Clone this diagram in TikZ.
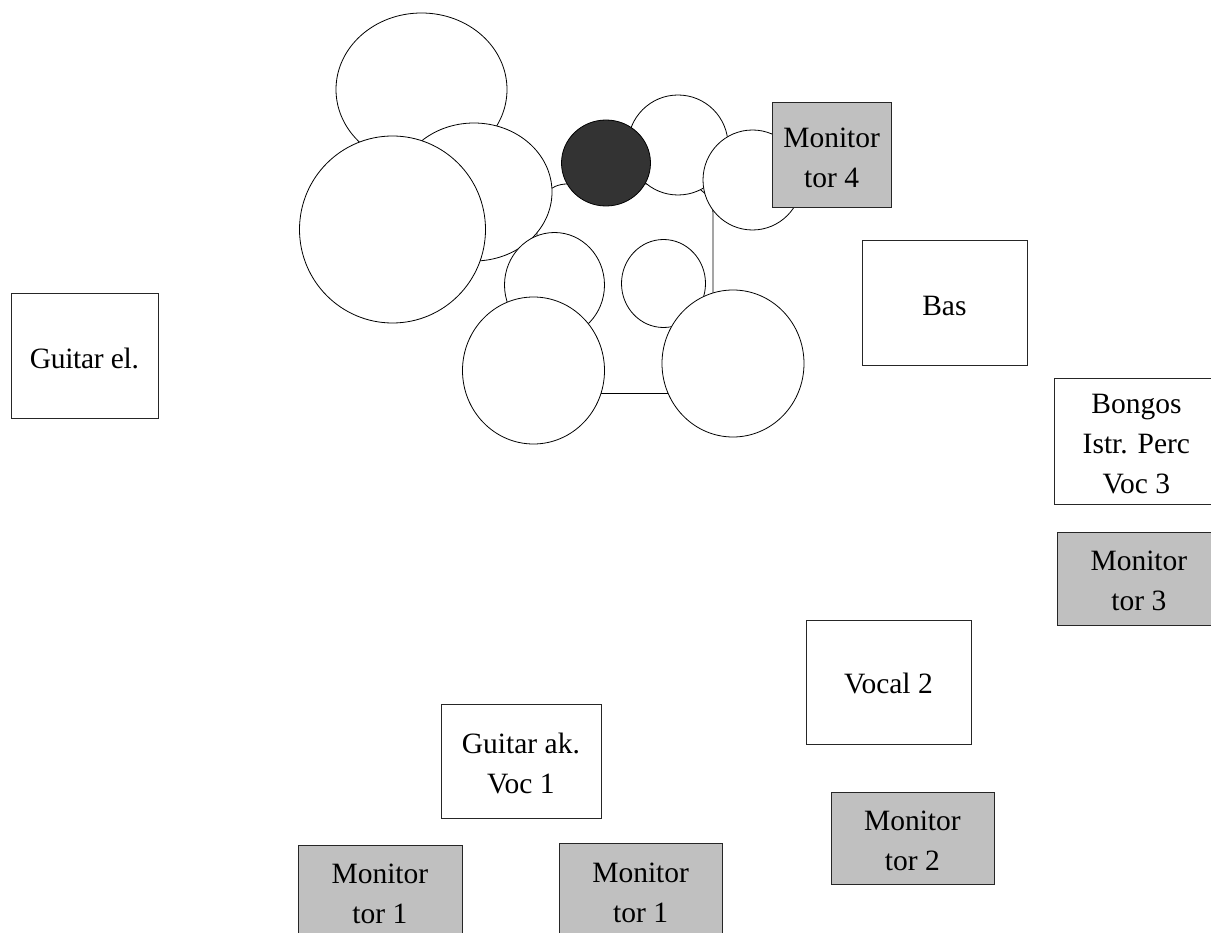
\documentclass[tikz,border=0pt]{standalone}
\usepackage{fontspec}
\setmainfont{Liberation Serif}
\usetikzlibrary{shapes.geometric}
\tikzset{
 lbl/.style={align=center,font=\fontsize{29.5}{40}\selectfont,inner sep=0pt,yshift=-2.5pt},
 bx/.style={draw=black!85,line width=0.8pt,fill=white,inner sep=0pt,anchor=north west},
 mon/.style={bx,fill=black!25},
 drum/.style={draw=black,line width=0.8pt,fill=white,ellipse,inner sep=0pt},
}
\definecolor{darkdrum}{HTML}{333333}
\definecolor{mongray}{HTML}{C0C0C0}
\newcommand{\bxn}[6]{\node[#1,minimum width=#4pt,minimum height=#5pt,label={[lbl]center:#6}] (#2) at (#3) {};}
\begin{document}
\begin{tikzpicture}[x=1pt,y=-1pt]
\useasboundingbox (0,0) rectangle (1211,933);
\clip (0,0) rectangle (1211,933);
\node[draw=black,line width=0.8pt,rounded corners=30pt,minimum width=176pt,minimum height=209.5pt,inner sep=0pt] (kit) at (625,288.75) {};
\node[drum,minimum width=171pt,minimum height=153pt] (d1) at (421.5,89.5) {};
\node[drum,minimum width=156pt,minimum height=138pt] (d2) at (474,192) {};
\node[drum,minimum width=186pt,minimum height=187pt] (d3) at (392.5,229.5) {};
\node[drum,minimum width=100pt,minimum height=100pt] (d4) at (678,145) {};
\node[drum,minimum width=99pt,minimum height=100pt] (d5) at (752.5,180) {};
\node[drum,fill=darkdrum,minimum width=89pt,minimum height=86pt] (d6) at (606,163) {};
\node[drum,minimum width=100pt,minimum height=105pt] (d7) at (554.5,285) {};
\node[drum,minimum width=84pt,minimum height=88pt] (d8) at (663.5,283.5) {};
\node[drum,minimum width=142pt,minimum height=147pt] (d9) at (533.5,370.5) {};
\node[drum,minimum width=142pt,minimum height=147pt] (d10) at (733,363.5) {};
\bxn{mon,fill=mongray}{m4}{771.5,102.5}{119.5}{105}{Monitor\\tor 4}
\bxn{bx}{bas}{861.5,240.5}{165}{125}{Bas}
\bxn{bx}{ge}{10.5,293.5}{147}{124.5}{\addfontfeature{LetterSpace=-1}Guitar el.}
\bxn{bx}{bon}{1053.5,378.5}{165}{125}{Bongos\\Istr. Perc\\Voc 3}
\bxn{mon,fill=mongray}{m3}{1056.5,531.5}{164}{93.5}{Monitor\\tor 3}
\bxn{bx}{v2}{805.5,619.5}{165}{124.5}{\raisebox{2pt}{Vocal 2}}
\bxn{bx}{ga}{440.5,703.5}{160}{114.5}{Guitar ak.\\Voc 1}
\bxn{mon,fill=mongray}{m2}{830.5,791.5}{163}{92.5}{Monitor\\tor 2}
\bxn{mon,fill=mongray}{m1a}{297.5,844.5}{164}{93}{Monitor\\tor 1}
\bxn{mon,fill=mongray}{m1b}{558.5,842.5}{163.5}{95}{Monitor\\tor 1}
\end{tikzpicture}
\end{document}
